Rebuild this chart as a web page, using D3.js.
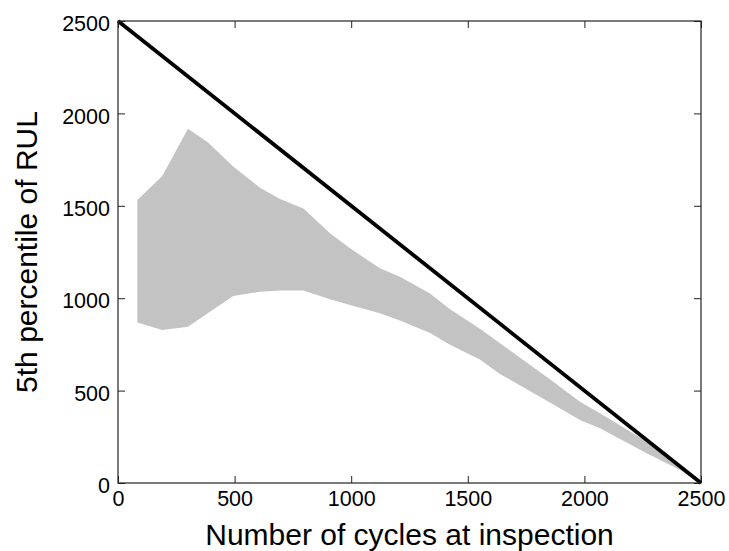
<!DOCTYPE html>
<html>
<head>
<meta charset="utf-8">
<script src="https://cdn.jsdelivr.net/npm/d3@7"></script>
<style>
  body { margin: 0; background: #fff; }
  text { font-family: "Liberation Sans", Arial, sans-serif; fill: #000; }
</style>
</head>
<body>
<div id="chart"></div>
<script>
// Values
const cycles = [83, 190, 300, 385, 494, 609, 695, 795, 909, 995, 1123, 1209, 1338, 1424, 1552, 1638, 1852, 1981, 2067, 2267, 2410, 2490]
const rulUpper = [1531, 1661, 1917, 1844, 1712, 1598, 1537, 1486, 1351, 1270, 1162, 1116, 1026, 940, 835, 756, 561, 440, 377, 224, 85, 5]
const rulLower = [868, 828, 846, 918, 1012, 1035, 1041, 1041, 994, 963, 918, 880, 812, 748, 668, 590, 435, 341, 296, 161, 70, 3]
const trueRul = [[0, 2500], [2500, 0]] // actual remaining life line
const tickValues = [0, 500, 1000, 1500, 2000, 2500]

const W = 729, H = 551
const margin = { top: 21, right: 28, bottom: 68, left: 118 }
const width = W - margin.left - margin.right
const height = H - margin.top - margin.bottom

const svg = d3.select('#chart').append('svg')
  .attr('width', W)
  .attr('height', H)

const g = svg.append('g')
  .attr('transform', `translate(${margin.left},${margin.top})`)

const x = d3.scaleLinear().domain([0, 2500]).range([0, width])
const y = d3.scaleLinear().domain([0, 2500]).range([height, 0])

const band = cycles.map((c, i) => ({ c: c, lo: rulLower[i], hi: rulUpper[i] }))

// grey band of the 5th percentile
g.append('path')
  .datum(band)
  .attr('fill', '#c3c3c3')
  .attr('d', d3.area()
    .x((d) => x(d.c))
    .y0((d) => y(d.lo))
    .y1((d) => y(d.hi)))

// black diagonal
g.append('path')
  .datum(trueRul)
  .attr('fill', 'none')
  .attr('stroke', '#000')
  .attr('stroke-width', 3.8)
  .attr('d', d3.line().x((d) => x(d[0])).y((d) => y(d[1])))

// axes, ticks pointing inward like matlab
const tickLen = 7
const fontSize = '21.5px'

const xAxis = g.append('g')
  .attr('transform', `translate(0,${height})`)
  .call(d3.axisBottom(x).tickValues(tickValues).tickSize(-tickLen).tickPadding(8).tickFormat(d3.format('d')))
xAxis.selectAll('text').style('font-size', fontSize).attr('dy', '0.72em')

g.append('g')
  .call(d3.axisTop(x).tickValues(tickValues).tickSize(-tickLen).tickFormat(''))

const yAxis = g.append('g')
  .call(d3.axisLeft(y).tickValues(tickValues).tickSize(-tickLen).tickPadding(8).tickFormat(d3.format('d')))
yAxis.selectAll('text').style('font-size', fontSize).attr('dy', '0.45em')

g.append('g')
  .attr('transform', `translate(${width},0)`)
  .call(d3.axisRight(y).tickValues(tickValues).tickSize(-tickLen).tickFormat(''))

g.selectAll('.domain').remove()
g.selectAll('.tick line').attr('stroke', '#222')

// box around plot
g.append('rect')
  .attr('width', width)
  .attr('height', height)
  .attr('fill', 'none')
  .attr('stroke', '#222')
  .attr('stroke-width', 1.2)

// axis labels
svg.append('text')
  .attr('x', margin.left + width / 2)
  .attr('y', 545)
  .attr('text-anchor', 'middle')
  .style('font-size', '30px')
  .text('Number of cycles at inspection')

svg.append('text')
  .attr('transform', `translate(37,${margin.top + height / 2}) rotate(-90)`)
  .attr('text-anchor', 'middle')
  .style('font-size', '30px')
  .text('5th percentile of RUL')
</script>
</body>
</html>
